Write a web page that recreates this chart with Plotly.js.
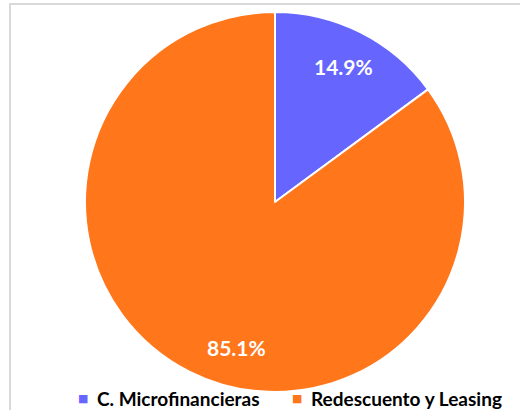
<!DOCTYPE html>
<html><head><meta charset="utf-8">
<script src="https://cdn.plot.ly/plotly-3.0.1.min.js"></script>
<style>html,body{margin:0;padding:0;background:#fff}</style>
</head><body><div id="chart" style="width:520px;height:410px"></div>
<script>
const categories = ["C. Microfinancieras", "Redescuento y Leasing"];
const values = [14.9, 85.1];
const colors = ["#6666ff", "#ff761b"];

const FONT = "Lato, 'Open Sans', sans-serif";
const W = 520, H = 410;
const CX = 275, CY = 202, R = 190;
// label placement (angle clockwise from top in degrees, radius fraction) per slice
const labelPlace = [{ang: null, r: 0.80}, {ang: 194.7, r: 0.79}];

const trace = {
  type: "pie",
  labels: categories,
  values: values,
  sort: false,
  direction: "clockwise",
  rotation: 0,
  marker: {colors: colors, line: {color: "#ffffff", width: 2}},
  textinfo: "none",
  hoverinfo: "label+percent",
  domain: {x: [(CX-R)/W, (CX+R)/W], y: [(H-CY-R)/H, (H-CY+R)/H]},
  showlegend: false
};

const annotations = [];
const total = values.reduce((a, b) => a + b, 0);
let cum = 0;
values.forEach((v, i) => {
  const frac = v / total;
  const mid = (cum + frac / 2) * 360;
  cum += frac;
  const ang = (labelPlace[i].ang == null ? mid : labelPlace[i].ang) * Math.PI / 180;
  const px = CX + Math.sin(ang) * R * labelPlace[i].r;
  const py = CY - Math.cos(ang) * R * labelPlace[i].r;
  annotations.push({
    xref: "paper", yref: "paper", x: px / W, y: 1 - py / H,
    xanchor: "center", yanchor: "middle", showarrow: false,
    text: (frac * 100).toFixed(1) + "%",
    font: {family: FONT, size: 21, color: "#ffffff", weight: "bold"}
  });
});

const legendX = [95, 309];
categories.forEach((c, i) => {
  annotations.push({
    xref: "paper", yref: "paper", x: legendX[i]/W, y: 1 - 398/H,
    xanchor: "left", yanchor: "middle", showarrow: false,
    text: c, font: {family: FONT, size: 19, color: "#000000", weight: "bold"}
  });
  annotations.push({
    xref: "paper", yref: "paper", x: (legendX[i]-12)/W, y: 1 - 398/H,
    xanchor: "center", yanchor: "middle", showarrow: false,
    text: "■", font: {family: "DejaVu Sans", size: 11, color: colors[i]}
  });
});

const layout = {
  width: W, height: H,
  margin: {l: 0, r: 0, t: 0, b: 0, autoexpand: false},
  paper_bgcolor: "#ffffff",
  showlegend: false,
  annotations: annotations,
  shapes: [{type: "rect", xref: "paper", yref: "paper",
    x0: 10/W, x1: 1.05, y0: -0.05, y1: 1 - 4/H,
    line: {color: "#d9d9d9", width: 2}, fillcolor: "rgba(0,0,0,0)", layer: "below"}]
};

Plotly.newPlot("chart", [trace], layout, {displayModeBar: false, staticPlot: true});
</script></body></html>
